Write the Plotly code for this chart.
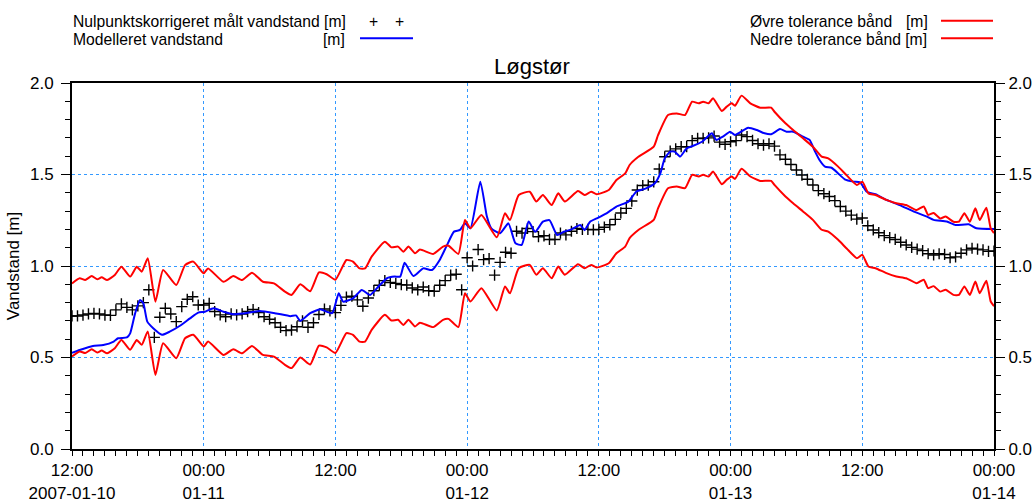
import pandas as pd
import plotly.graph_objects as go

START = pd.Timestamp("2007-01-10 12:00")
END = pd.Timestamp("2007-01-14 00:00")

# Measured (zero-point corrected) water level, every 30 minutes from START
MEAS = [
    0.727, 0.727, 0.732, 0.738, 0.741, 0.738, 0.732, 0.730, 0.760, 0.793,
    0.774, 0.760, 0.782, 0.800, 0.870, 0.610, 0.720, 0.769, 0.738, 0.696,
    0.778, 0.818, 0.832, 0.787, 0.787, 0.796, 0.751, 0.733, 0.723, 0.738,
    0.733, 0.738, 0.751, 0.762, 0.745, 0.723, 0.709, 0.690, 0.665, 0.647,
    0.650, 0.668, 0.700, 0.665, 0.690, 0.735, 0.765, 0.755, 0.745, 0.785,
    0.830, 0.835, 0.815, 0.780, 0.825, 0.865, 0.895, 0.920, 0.910, 0.905,
    0.898, 0.896, 0.880, 0.870, 0.885, 0.865, 0.862, 0.895, 0.920, 0.950,
    0.955, 0.870, 1.045, 1.000, 1.090, 1.035, 1.040, 0.950, 1.020, 1.075,
    1.070, 1.190, 1.180, 1.205, 1.188, 1.160, 1.165, 1.145, 1.145, 1.180,
    1.170, 1.190, 1.205, 1.200, 1.200, 1.198, 1.200, 1.212, 1.225, 1.255,
    1.290, 1.315, 1.355, 1.415, 1.440, 1.442, 1.460, 1.530, 1.597, 1.628,
    1.640, 1.652, 1.652, 1.685, 1.697, 1.698, 1.700, 1.710, 1.677, 1.665,
    1.679, 1.685, 1.716, 1.707, 1.686, 1.668, 1.660, 1.668, 1.655, 1.607,
    1.583, 1.555, 1.525, 1.497, 1.474, 1.443, 1.412, 1.395, 1.380, 1.357,
    1.325, 1.300, 1.278, 1.256, 1.262, 1.220, 1.197, 1.182, 1.166, 1.155,
    1.145, 1.130, 1.115, 1.102, 1.092, 1.084, 1.067, 1.060, 1.067, 1.063,
    1.045, 1.050, 1.070, 1.088, 1.097, 1.092, 1.088, 1.080, 1.082,
]

# Modelled water level: hours after START and value
MOD_H = [0.0, 0.7, 1.9, 2.85, 3.8, 4.2, 5.0, 5.3, 5.75, 6.2,
         6.5, 6.86, 7.4, 8.2, 8.9, 9.8, 10.75, 11.5, 12.1, 12.9,
         13.8, 14.7, 15.6, 17.1, 18.6, 19.9, 20.4, 20.8, 21.7, 22.6,
         23.7, 24.3, 24.7, 25.6, 26.4, 27.15, 27.9, 28.7, 29.4, 29.9,
         30.3, 31.1, 32.0, 32.8, 33.5, 34.1, 34.8, 35.35, 35.8, 36.3,
         37.2, 37.8, 38.2, 39.0, 39.76, 40.4, 40.97, 41.6, 42.2, 42.9,
         43.5, 44.2, 44.8, 45.5, 46.3, 46.7, 47.2, 47.8, 48.7, 49.6,
         50.7, 51.4, 52.3, 53.1, 53.6, 54.0, 54.5, 54.9, 55.4, 56.0,
         56.6, 57.4, 58.3, 58.7, 59.3, 59.95, 60.4, 61.6, 62.4, 63.1,
         63.7, 64.5, 65.1, 65.7, 66.6, 67.2, 67.7, 68.1, 68.6, 69.2,
         69.8, 70.4, 71.2, 71.8, 72.4, 73.2, 74.2, 75.4, 76.7, 77.9,
         78.5, 79.7, 80.5, 81.7, 82.4, 84.0]
MOD_V = [0.526, 0.541, 0.563, 0.568, 0.587, 0.605, 0.610, 0.632, 0.741, 0.814,
         0.796, 0.696, 0.660, 0.624, 0.641, 0.672, 0.714, 0.745, 0.750, 0.769,
         0.750, 0.736, 0.741, 0.754, 0.741, 0.726, 0.730, 0.700, 0.742, 0.763,
         0.742, 0.851, 0.805, 0.823, 0.869, 0.842, 0.887, 0.933, 0.942, 0.942,
         1.018, 0.945, 0.987, 0.978, 1.033, 1.106, 1.188, 1.197, 1.233, 1.206,
         1.461, 1.270, 1.206, 1.179, 1.233, 1.124, 1.115, 1.243, 1.187, 1.242,
         1.251, 1.169, 1.187, 1.200, 1.224, 1.196, 1.242, 1.260, 1.288, 1.325,
         1.352, 1.406, 1.424, 1.452, 1.506, 1.588, 1.625, 1.625, 1.598, 1.643,
         1.657, 1.679, 1.725, 1.689, 1.707, 1.734, 1.716, 1.756, 1.743, 1.725,
         1.720, 1.748, 1.734, 1.734, 1.707, 1.689, 1.625, 1.579, 1.543, 1.537,
         1.506, 1.474, 1.461, 1.457, 1.406, 1.392, 1.361, 1.333, 1.297, 1.270,
         1.252, 1.243, 1.224, 1.228, 1.206, 1.202]

# Tolerance bands: hours after START, upper and lower values
BAND_H = [0.0, 0.7, 1.2, 1.8, 2.3, 2.7, 3.2, 3.9, 4.5, 5.3,
          5.9, 6.35, 6.9, 7.6, 8.3, 9.5, 10.3, 11.05, 12.0, 12.4,
          13.8, 14.7, 15.5, 16.4, 17.4, 18.4, 19.4, 20.0, 20.8, 21.7,
          22.5, 23.2, 24.0, 25.0, 25.6, 26.2, 26.7, 27.3, 28.5, 29.1,
          29.7, 30.2, 30.65, 31.25, 31.7, 32.9, 33.8, 34.3, 35.2, 35.8,
          36.3, 37.3, 38.7, 39.45, 39.9, 40.7, 41.7, 42.3, 42.9, 43.7,
          44.3, 44.9, 46.1, 46.7, 47.3, 47.8, 48.9, 49.6, 50.4, 50.8,
          51.6, 53.0, 53.4, 54.3, 55.1, 55.85, 56.5, 57.1, 57.5, 58.0,
          58.4, 59.2, 59.65, 60.1, 60.4, 61.0, 61.8, 62.7, 63.7, 64.0,
          65.0, 65.7, 66.6, 67.5, 68.3, 68.9, 69.8, 70.6, 71.5, 72.0,
          72.56, 73.2, 74.2, 75.1, 76.0, 76.95, 77.6, 78.0, 78.5, 79.1,
          79.6, 80.3, 80.8, 81.3, 81.8, 82.3, 82.7, 83.3, 83.7, 84.0]
UPPER_V = [0.905, 0.933, 0.924, 0.945, 0.927, 0.938, 0.923, 0.951, 0.996, 0.942,
           0.996, 0.969, 1.042, 0.805, 0.978, 0.896, 1.005, 1.024, 0.960, 0.987,
           0.914, 0.945, 0.923, 0.963, 0.914, 0.905, 0.860, 0.842, 0.900, 0.862,
           0.965, 0.955, 0.925, 1.033, 1.024, 0.987, 0.987, 1.051, 1.133, 1.102,
           1.106, 1.078, 1.106, 1.070, 1.090, 1.066, 1.106, 1.111, 1.066, 1.251,
           1.206, 1.279, 1.157, 1.288, 1.251, 1.388, 1.406, 1.352, 1.388, 1.333,
           1.397, 1.352, 1.410, 1.388, 1.406, 1.392, 1.415, 1.470, 1.506, 1.552,
           1.597, 1.652, 1.716, 1.825, 1.834, 1.825, 1.898, 1.889, 1.898, 1.889,
           1.916, 1.847, 1.871, 1.889, 1.876, 1.931, 1.889, 1.865, 1.865, 1.843,
           1.780, 1.743, 1.698, 1.652, 1.598, 1.588, 1.543, 1.494, 1.443, 1.461,
           1.397, 1.388, 1.361, 1.343, 1.333, 1.306, 1.325, 1.279, 1.290, 1.260,
           1.270, 1.242, 1.242, 1.288, 1.242, 1.315, 1.251, 1.319, 1.206, 1.180]
LOWER_V = [0.505, 0.533, 0.524, 0.545, 0.527, 0.538, 0.523, 0.551, 0.596, 0.542,
           0.596, 0.569, 0.642, 0.405, 0.578, 0.496, 0.605, 0.624, 0.560, 0.587,
           0.514, 0.545, 0.523, 0.563, 0.514, 0.505, 0.460, 0.442, 0.500, 0.462,
           0.565, 0.555, 0.525, 0.633, 0.624, 0.587, 0.587, 0.651, 0.733, 0.702,
           0.706, 0.678, 0.706, 0.670, 0.690, 0.666, 0.706, 0.711, 0.666, 0.851,
           0.806, 0.879, 0.757, 0.888, 0.851, 0.988, 1.006, 0.952, 0.988, 0.933,
           0.997, 0.952, 1.010, 0.988, 1.006, 0.992, 1.015, 1.070, 1.106, 1.152,
           1.197, 1.252, 1.316, 1.425, 1.434, 1.425, 1.498, 1.489, 1.498, 1.489,
           1.516, 1.447, 1.471, 1.489, 1.476, 1.531, 1.489, 1.465, 1.465, 1.443,
           1.380, 1.343, 1.298, 1.252, 1.198, 1.188, 1.143, 1.094, 1.043, 1.061,
           0.997, 0.988, 0.961, 0.943, 0.933, 0.906, 0.925, 0.879, 0.890, 0.860,
           0.870, 0.842, 0.842, 0.888, 0.842, 0.915, 0.851, 0.919, 0.806, 0.780]

TICK_TIMES = ["2007-01-10 12:00", "2007-01-11 00:00", "2007-01-11 12:00", "2007-01-12 00:00",
              "2007-01-12 12:00", "2007-01-13 00:00", "2007-01-13 12:00", "2007-01-14 00:00"]
TICK_TEXT = ["12:00<br>2007-01-10", "00:00<br>01-11", "12:00", "00:00<br>01-12",
             "12:00", "00:00<br>01-13", "12:00", "00:00<br>01-14"]

FONT = "Liberation Sans, Arial, sans-serif"
GRID = "#3399ff"

FIG_W, FIG_H = 1036, 501
L, T, PW, PH = 72.0, 83.0, 922.0, 366.0   # plot area in pixels


def hours_to_time(hours):
    return [START + pd.Timedelta(hours=h) for h in hours]


meas_t = pd.date_range(START, periods=len(MEAS), freq="30min")

fig = go.Figure()
fig.add_trace(go.Scatter(x=meas_t, y=MEAS, mode="markers", name="Nulpunktskorrigeret målt vandstand [m]",
                         marker=dict(symbol="cross-thin", size=8, line=dict(width=1.4, color="black"), color="black")))
fig.add_trace(go.Scatter(x=hours_to_time(MOD_H), y=MOD_V, mode="lines", name="Modelleret vandstand [m]",
                         line=dict(color="#0000ff", width=2, shape="spline", smoothing=0.5)))
fig.add_trace(go.Scatter(x=hours_to_time(BAND_H), y=UPPER_V, mode="lines", name="Øvre tolerance bånd [m]",
                         line=dict(color="#ff0000", width=2, shape="spline", smoothing=0.5)))
# lower band drawn on the (identical-range) right-hand axis so that axis gets rendered
fig.add_trace(go.Scatter(x=hours_to_time(BAND_H), y=LOWER_V, mode="lines", name="Nedre tolerance bånd [m]",
                         yaxis="y2",
                         line=dict(color="#ff0000", width=2, shape="spline", smoothing=0.5)))

axis_font = dict(family=FONT, size=17, color="black")

fig.update_layout(
    width=FIG_W, height=FIG_H,
    margin=dict(l=L, r=FIG_W - L - PW, t=T, b=FIG_H - T - PH, autoexpand=False),
    paper_bgcolor="white", plot_bgcolor="white",
    showlegend=False,
    font=dict(family=FONT, color="black"),
    xaxis=dict(
        range=[START, END], tickmode="array", tickvals=TICK_TIMES, ticktext=TICK_TEXT,
        ticks="outside", ticklen=5, tickwidth=1, tickcolor="black",
        showline=True, linecolor="black", linewidth=2, mirror=True,
        showgrid=True, gridcolor=GRID, griddash="dot", gridwidth=1,
        zeroline=False, tickfont=axis_font, automargin=False,
        minor=dict(tickmode="linear", tick0="2007-01-10 12:00", dtick=3600000,
                   ticks="outside", ticklen=5, tickcolor="black", showgrid=False),
    ),
    yaxis=dict(
        range=[0, 2], tickmode="linear", tick0=0, dtick=0.5, tickformat=".1f",
        ticks="outside", ticklen=9, tickwidth=1, tickcolor="black",
        showline=True, linecolor="black", linewidth=2,
        showgrid=True, gridcolor=GRID, griddash="dot", gridwidth=1,
        zeroline=False, tickfont=axis_font, ticklabelstandoff=4, automargin=False,
        title=dict(text="Vandstand [m]", font=dict(family=FONT, size=17), standoff=6),
        minor=dict(tickmode="linear", tick0=0, dtick=0.1, ticks="outside", ticklen=5,
                   tickcolor="black", showgrid=False),
    ),
    yaxis2=dict(
        range=[0, 2], overlaying="y", side="right", anchor="x",
        tickmode="linear", tick0=0, dtick=0.5, tickformat=".1f",
        ticks="outside", ticklen=9, tickwidth=1, tickcolor="black",
        showline=True, linecolor="black", linewidth=2,
        showgrid=False, zeroline=False, tickfont=axis_font, ticklabelstandoff=0, automargin=False,
        minor=dict(tickmode="linear", tick0=0, dtick=0.1, ticks="outside", ticklen=5,
                   tickcolor="black", showgrid=False),
    ),
)


def px(xp):
    return (xp - L) / PW


def py(yp):
    return (T + PH - yp) / PH


leg_font = dict(family=FONT, size=15.7, color="black")
ann = [
    dict(text="Løgstør", x=px(532), y=py(66), xanchor="center", yanchor="middle",
         font=dict(family=FONT, size=22, color="black")),
    dict(text="Nulpunktskorrigeret målt vandstand [m]", x=px(71), y=py(21), xanchor="left", yanchor="middle", font=leg_font),
    dict(text="Modelleret vandstand", x=px(71), y=py(39), xanchor="left", yanchor="middle", font=leg_font),
    dict(text="[m]", x=px(347), y=py(39), xanchor="right", yanchor="middle", font=leg_font),
    dict(text="+", x=px(373), y=py(21), xanchor="center", yanchor="middle", font=leg_font),
    dict(text="+", x=px(399), y=py(21), xanchor="center", yanchor="middle", font=leg_font),
    dict(text="Øvre tolerance bånd", x=px(748), y=py(21), xanchor="left", yanchor="middle", font=leg_font),
    dict(text="[m]", x=px(904), y=py(21), xanchor="left", yanchor="middle", font=leg_font),
    dict(text="Nedre tolerance bånd [m]", x=px(748), y=py(39), xanchor="left", yanchor="middle", font=leg_font),
]
for a in ann:
    a.update(xref="paper", yref="paper", showarrow=False)
fig.update_layout(annotations=ann)

shapes = [
    dict(type="line", x0=px(360), x1=px(413), y0=py(38.3), y1=py(38.3), line=dict(color="#0000ff", width=2)),
    dict(type="line", x0=px(941), x1=px(993), y0=py(20.7), y1=py(20.7), line=dict(color="#ff0000", width=2)),
    dict(type="line", x0=px(941), x1=px(993), y0=py(38.3), y1=py(38.3), line=dict(color="#ff0000", width=2)),
]
for s in shapes:
    s.update(xref="paper", yref="paper")
fig.update_layout(shapes=shapes)

# remove the default page margin so the 1036x501 figure fills the window exactly
fig.write_html("out.html", config={"displayModeBar": False},
               post_script="document.body.style.margin='0';document.body.style.overflow='hidden';")
